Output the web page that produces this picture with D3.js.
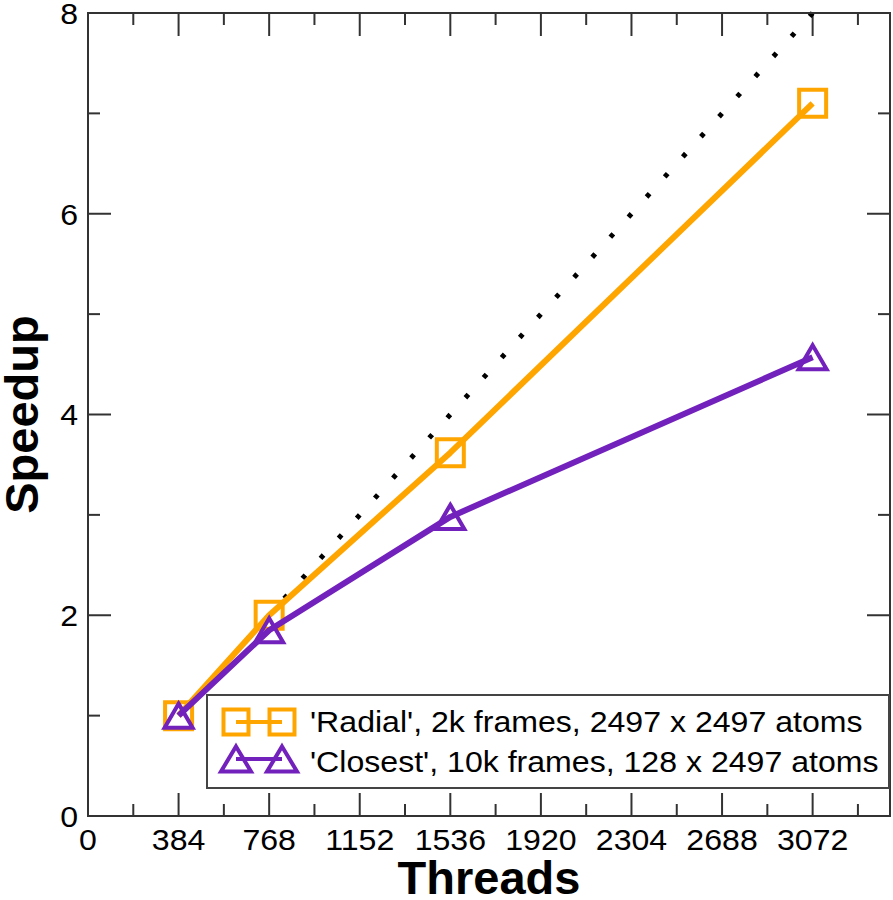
<!DOCTYPE html>
<html>
<head>
<meta charset="utf-8">
<script src="https://cdn.jsdelivr.net/npm/d3@7"></script>
<style>
  html, body { margin: 0; padding: 0; background: #fff; }
  svg { display: block; font-family: "Liberation Sans", Arial, Helvetica, sans-serif; }
</style>
</head>
<body>
<svg id="chart" width="893" height="900"></svg>
<script>
// ---------- data ----------
const threads = [384, 768, 1536, 3072];
const radialSpeedup = [1.0, 2.0, 3.62, 7.1];
const closestSpeedup = [1.0, 1.85, 2.98, 4.57];
const idealThreads = [3072, 384];
const idealSpeedup = [8, 1];
const xTickValues = [0, 384, 768, 1152, 1536, 1920, 2304, 2688, 3072];
const yTickValues = [0, 2, 4, 6, 8];
const seriesNames = ["'Radial', 2k frames, 2497 x 2497 atoms", "'Closest', 10k frames, 128 x 2497 atoms"];
const xTitle = "Threads";
const yTitle = "Speedup";

(function () {
// ---------- layout ----------
const svg = d3.select("#chart");
const pL = 88, pR = 890, pT = 13, pB = 816;
const x = d3.scaleLinear().domain([0, 3400]).range([pL, pR]);
const y = d3.scaleLinear().domain([0, 8]).range([pB, pT]);
const axisColor = "#333";
const orange = "#FFA500";
const indigo = "#7221BC";
const stretch = 1.07;

// minor ticks
const xMinor = d3.range(192, 3400, 384);
const yMinor = d3.range(1, 8, 2);

const tickG = svg.append("g").attr("stroke", axisColor).attr("stroke-width", 2);
function vTicks(vals, len) {
  vals.forEach(v => {
    tickG.append("line").attr("x1", x(v)).attr("x2", x(v)).attr("y1", pB).attr("y2", pB - len);
    tickG.append("line").attr("x1", x(v)).attr("x2", x(v)).attr("y1", pT).attr("y2", pT + len);
  });
}
function hTicks(vals, len) {
  vals.forEach(v => {
    tickG.append("line").attr("y1", y(v)).attr("y2", y(v)).attr("x1", pL).attr("x2", pL + len);
    tickG.append("line").attr("y1", y(v)).attr("y2", y(v)).attr("x1", pR).attr("x2", pR - len);
  });
}
vTicks(xTickValues, 23);
vTicks(xMinor, 12);
hTicks(yTickValues, 23);
hTicks(yMinor, 12);

// tick labels
svg.append("g").selectAll("g").data(xTickValues).join("g")
  .attr("transform", d => `translate(${x(d)},850) scale(${stretch},1)`)
  .append("text")
  .attr("text-anchor", "middle").attr("font-size", 30).attr("fill", "#000")
  .text(d => d);
svg.append("g").selectAll("g").data(yTickValues).join("g")
  .attr("transform", d => `translate(78,${y(d)}) scale(${stretch},1)`)
  .append("text").attr("dy", "0.36em")
  .attr("text-anchor", "end").attr("font-size", 30).attr("fill", "#000")
  .text(d => d);

// axis titles
svg.append("text").attr("x", (pL + pR) / 2).attr("y", 894)
  .attr("text-anchor", "middle").attr("font-size", 47).attr("font-weight", "bold")
  .text(xTitle);
svg.append("text").attr("transform", `translate(38,${(pT + pB) / 2}) rotate(-90)`)
  .attr("text-anchor", "middle").attr("font-size", 47).attr("font-weight", "bold")
  .text(yTitle);

// ideal dotted line
const line = d3.line().x(d => x(d[0])).y(d => y(d[1]));
const idealPath = svg.append("path")
  .datum(d3.zip(idealThreads, idealSpeedup))
  .attr("d", line)
  .attr("fill", "none").attr("stroke", "#000").attr("stroke-width", 5);
const L = idealPath.node().getTotalLength();
const period = L / ((idealSpeedup[0] - idealSpeedup[1]) * 5);
idealPath.attr("stroke-dasharray", `4.5 ${period - 4.5}`);

// markers
function squarePath(s) { const h = s / 2; return `M${-h},${-h}H${h}V${h}H${-h}Z`; }
function triPath(w, h) { return `M0,${-h / 2}L${w / 2},${h / 2}L${-w / 2},${h / 2}Z`; }

function drawSeries(vals, color, markerPath) {
  const data = d3.zip(threads, vals);
  svg.append("path").datum(data).attr("d", line)
    .attr("fill", "none").attr("stroke", color).attr("stroke-width", 6).attr("stroke-linejoin", "round");
  svg.append("g").selectAll("path").data(data).join("path")
    .attr("transform", d => `translate(${x(d[0])},${y(d[1])})`)
    .attr("d", markerPath)
    .attr("fill", "none").attr("stroke", color).attr("stroke-width", 4).attr("stroke-linejoin", "miter");
}
drawSeries(radialSpeedup, orange, squarePath(27));
drawSeries(closestSpeedup, indigo, triPath(28, 24));

// frame
svg.append("rect").attr("x", pL).attr("y", pT).attr("width", pR - pL).attr("height", pB - pT)
  .attr("fill", "none").attr("stroke", axisColor).attr("stroke-width", 2);

// legend
const lg = svg.append("g");
lg.append("rect").attr("x", 207).attr("y", 695).attr("width", 682).attr("height", 93)
  .attr("fill", "#fff").attr("stroke", "#444").attr("stroke-width", 2);
const legendItems = [
  { name: seriesNames[0], color: orange, path: squarePath(25), cy: 722, ty: 731.5 },
  { name: seriesNames[1], color: indigo, path: triPath(30, 25), cy: 759, ty: 771.5 }
];
legendItems.forEach(it => {
  lg.append("line").attr("x1", 236).attr("x2", 282).attr("y1", it.cy).attr("y2", it.cy)
    .attr("stroke", it.color).attr("stroke-width", 4);
  [236, 282].forEach(cx => {
    lg.append("path").attr("transform", `translate(${cx},${it.cy})`).attr("d", it.path)
      .attr("fill", "none").attr("stroke", it.color).attr("stroke-width", 4);
  });
  lg.append("g").attr("transform", `translate(310,${it.ty}) scale(${stretch},1)`)
    .append("text").attr("font-size", 30).attr("fill", "#000")
    .text(it.name);
});
})();
</script>
</body>
</html>
